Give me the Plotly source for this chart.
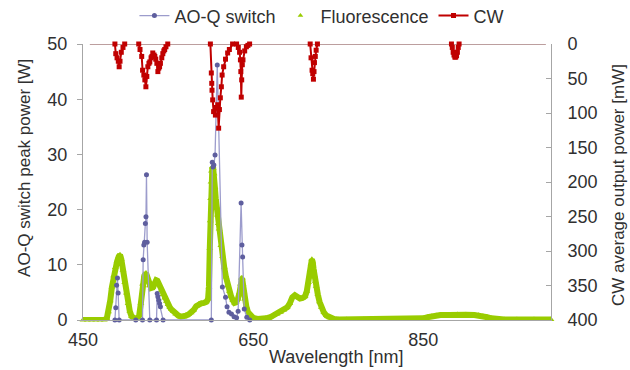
import plotly.graph_objects as go

# ---------------- data ----------------
# AO-Q switch peak power [W]
aoq_nm = [487.5, 488.5, 489.5, 490.5, 491.3, 492.5, 512, 519.9, 520.7, 521.5, 522.4, 523.3,
          524.0, 524.6, 525.4, 528.5, 536.4, 537.2, 538.0, 539.0, 540.0, 541.0, 544.1,
          600.8, 601.9, 602.8, 603.8, 605.2, 607.8, 613.8, 617.5, 619.3, 621.5, 624.5,
          627.5, 630.5, 632.3, 635.8, 636.8, 637.6, 639.5, 642.5, 646]
aoq_w = [0, 2.2, 6.3, 7.6, 4.9, 0, 0, 0, 10.9, 13.6, 14.1, 17.5,
         18.7, 26.3, 14.1, 0, 0, 4.8, 4.2, 3.6, 3.0, 2.4, 0,
         0, 28.6, 27.7, 28.1, 29.9, 46.2, 6.0, 4.1, 2.4, 1.4, 1.1,
         0.6, 0.4, 1.6, 21.2, 13.6, 11.4, 2.0, 0.5, 0]

# Fluorescence (arb., plotted on the W axis)
fl_nm = [450, 455, 460, 465, 470, 475, 478, 480, 482, 484, 486, 488, 490, 492, 493.5, 495,
         497, 499, 501, 503, 505, 507, 510, 514, 516, 518, 520, 522, 524, 526, 528, 530, 532,
         534, 536, 537.5, 540, 542, 544, 546, 548, 550, 552, 554, 556, 559, 562, 565, 568,
         571, 574, 577, 580, 583, 586, 589, 592, 595, 597, 598, 599, 599.5, 600, 600.5, 601,
         602, 603, 604, 605, 606, 607, 608, 609, 610, 612, 614, 616, 618, 620, 622, 624, 626,
         628, 630, 632, 634, 635, 636, 637, 638, 639, 640, 642, 644, 646, 648, 650, 655, 660,
         665, 670, 674, 678, 682, 686, 690, 693, 696, 699, 702, 705, 708, 711, 713, 715, 716,
         717, 718, 719, 720, 721, 722, 723, 724, 726, 728, 730, 733, 736, 740, 745, 750, 760,
         780, 800, 820, 840, 846, 850, 855, 860, 865, 870, 880, 890, 900, 910, 915, 920, 925,
         930, 935, 945, 960, 980, 1000]
fl_w = [0, 0, 0, 0, 0, 0, 0.3, 1.5, 3.5, 6, 8, 9.5, 10.6, 11.5, 11.8, 11,
        9, 6.8, 4.9, 3, 1.6, 0.7, 0.3, 0.3, 0.8, 3, 6.5, 8, 8.5, 7.5, 6.2, 5.8, 5.9,
        6.6, 7.2, 7.1, 6.2, 5.4, 4.6, 4, 3.4, 2.8, 2.3, 1.9, 1.6, 1.1, 0.8, 0.6, 0.6,
        0.8, 1.0, 1.3, 1.8, 2.5, 2.9, 3.0, 3.1, 3.3, 3.8, 6, 13, 18, 22, 25, 27,
        27.7, 27.5, 26.5, 24, 22, 20.5, 19, 17.5, 16.5, 13.5, 11.5, 9.5, 7.8, 6.2, 5.2, 4.3, 3.6,
        3.1, 3.2, 3.8, 5, 6.5, 7.6, 7.6, 6.5, 5, 3.8, 2.4, 1.4, 0.9, 0.6, 0.4, 0.2, 0.2,
        0.3, 0.5, 0.8, 1.1, 1.4, 1.8, 2.3, 3.0, 4.1, 4.5, 4.1, 3.9, 4.0, 4.3, 5.2, 6.8, 7.8,
        9, 10.2, 11, 10.5, 9.2, 8, 7, 6.1, 4.6, 3.3, 2.3, 1.4, 0.8, 0.4, 0.2, 0.1, 0.1,
        0.1, 0.1, 0.1, 0.1, 0.2, 0.3, 0.5, 0.7, 0.8, 0.9, 0.9, 1.0, 0.95, 0.9, 0.85, 0.7, 0.5,
        0.3, 0.15, 0.1, 0.1, 0.1, 0.1]

# CW average output power [mW]; None separates the measured bands
cw_nm = [487.5, 488.5, 490, 491.5, 492.5, 493.5, 495, 497, 499, None,
         515.5, 517, 519, 520, 521.5, 522.7, 523.9, 525, 526.2, 527.5, 528.5, 530, 531, 532,
         533.5, 534.4, 535.5, 536.8, 538, 539, 540, 541, 542.6, 543.8, 545, 546, 547.5, 549.6, None,
         599.7, 600.8, 601.3, 601.6, 602.4, 603.5, 605.6, 606.5, 608.3, 609.4, 610.3, 611.4,
         612.6, 613.5, 615.3, 617.5, 620, 622, 625.8, None,
         630.5, 632.5, 634, 635, 635.5, 636, 636.5, 637.2, 638, 640, 642, 643.8, 645.8, None,
         717, 718, 719.2, 720, 720.8, 721.5, 722, 723, 724, 725.5, None,
         883, 884, 885, 886, 887, 888, 889, 890, 891, 892]
cw_mw = [0, 14, 20, 25, 33, 25, 12, 5, 0, None,
         0, 8, 18, 38, 45, 52, 62, 47, 33, 28, 26, 20, 18, 13,
         16, 18, 22, 28, 40, 35, 33, 28, 20, 14, 10, 8, 4, 0, None,
         0, 42, 57, 67, 81, 98, 103, 92, 88, 122, 95, 78,
         62, 45, 33, 22, 13, 8, 0, None,
         0, 5, 12, 23, 40, 77, 52, 30, 23, 10, 4, 2, 0, None,
         0, 20, 38, 43, 51, 40, 27, 18, 9, 0, None,
         0, 5, 12, 16, 19, 19, 17, 12, 5, 0]
cw_zero_span = [458, 994]

x_ticks = [450, 650, 850]
y_ticks = [0, 10, 20, 30, 40, 50]
y2_ticks = [0, 50, 100, 150, 200, 250, 300, 350, 400]

# ---------------- styles ----------------
GREEN = "#99cc00"
BLUE_LINE = "#9c9ccc"
BLUE_MK = "#5e5e9e"
RED = "#c00000"
AXIS = "#a6a6a6"
TXT = "#303030"
FONT = "Liberation Sans, Arial, sans-serif"

fig = go.Figure()

fig.add_trace(go.Scatter(
    x=fl_nm, y=fl_w, mode="lines+markers", name="Fluorescence", showlegend=False,
    line=dict(color=GREEN, width=6),
    marker=dict(symbol="triangle-up", size=6, color=GREEN),
    cliponaxis=False))

fig.add_trace(go.Scatter(
    x=aoq_nm, y=aoq_w, mode="lines+markers", name="AO-Q switch",
    line=dict(color=BLUE_LINE, width=1.3),
    marker=dict(symbol="circle", size=5, color=BLUE_MK),
    cliponaxis=False))

fig.add_trace(go.Scatter(
    x=[None], y=[None], mode="markers", name="Fluorescence",
    marker=dict(symbol="triangle-up", size=5, color=GREEN)))

fig.add_trace(go.Scatter(
    x=cw_zero_span, y=[0, 0], yaxis="y2", mode="lines", showlegend=False,
    line=dict(color="#7a3f3f", width=1.2), hoverinfo="skip", cliponaxis=False))

fig.add_trace(go.Scatter(
    x=cw_nm, y=cw_mw, yaxis="y2", mode="lines+markers", name="CW",
    line=dict(color=RED, width=2),
    marker=dict(symbol="square", size=5, color=RED),
    connectgaps=False, cliponaxis=False))

fig.update_layout(
    width=630, height=370,
    margin=dict(l=83, r=79, t=44, b=50, autoexpand=False),
    paper_bgcolor="white", plot_bgcolor="white",
    font=dict(family=FONT, size=18, color=TXT),
    showlegend=True,
    legend=dict(orientation="h", xref="container", x=0.511, xanchor="center",
                yref="container", y=0.957, yanchor="middle",
                font=dict(size=18, color=TXT), bgcolor="rgba(0,0,0,0)",
                itemwidth=30, tracegroupgap=0),
    xaxis=dict(range=[450, 1000], tickvals=x_ticks, showgrid=False, zeroline=False,
               showline=True, linecolor=AXIS, linewidth=1, ticks="", automargin=False,
               ticklabelstandoff=3, tickfont=dict(size=18, color=TXT)),
    yaxis=dict(range=[0, 50], tickvals=y_ticks, showgrid=False, zeroline=False,
               showline=True, linecolor=AXIS, linewidth=1, ticks="outside", ticklen=5,
               tickcolor=AXIS, ticklabelstandoff=6, automargin=False,
               tickfont=dict(size=18, color=TXT)),
    yaxis2=dict(range=[400, 0], tickvals=y2_ticks, overlaying="y", side="right",
                showgrid=False, zeroline=False, showline=True, linecolor=AXIS, linewidth=1,
                ticks="inside", ticklen=5, tickcolor=AXIS, ticklabelstandoff=12,
                automargin=False, tickfont=dict(size=18, color=TXT)),
    annotations=[
        dict(text="Wavelength [nm]", xref="paper", yref="paper", x=0.541, y=-0.134,
             xanchor="center", yanchor="middle", showarrow=False, font=dict(size=18, color=TXT)),
        dict(text="AO-Q switch peak power [W]", xref="paper", yref="paper", x=-0.124, y=0.551,
             xanchor="center", yanchor="middle", textangle=-90, showarrow=False,
             font=dict(size=17, color=TXT)),
        dict(text="CW average output power [mW]", xref="paper", yref="paper", x=1.143, y=0.489,
             xanchor="center", yanchor="middle", textangle=-90, showarrow=False,
             font=dict(size=17, color=TXT)),
    ],
)

fig.write_html("out.html", config={"displayModeBar": False},
               post_script="document.body.style.margin='0';")
